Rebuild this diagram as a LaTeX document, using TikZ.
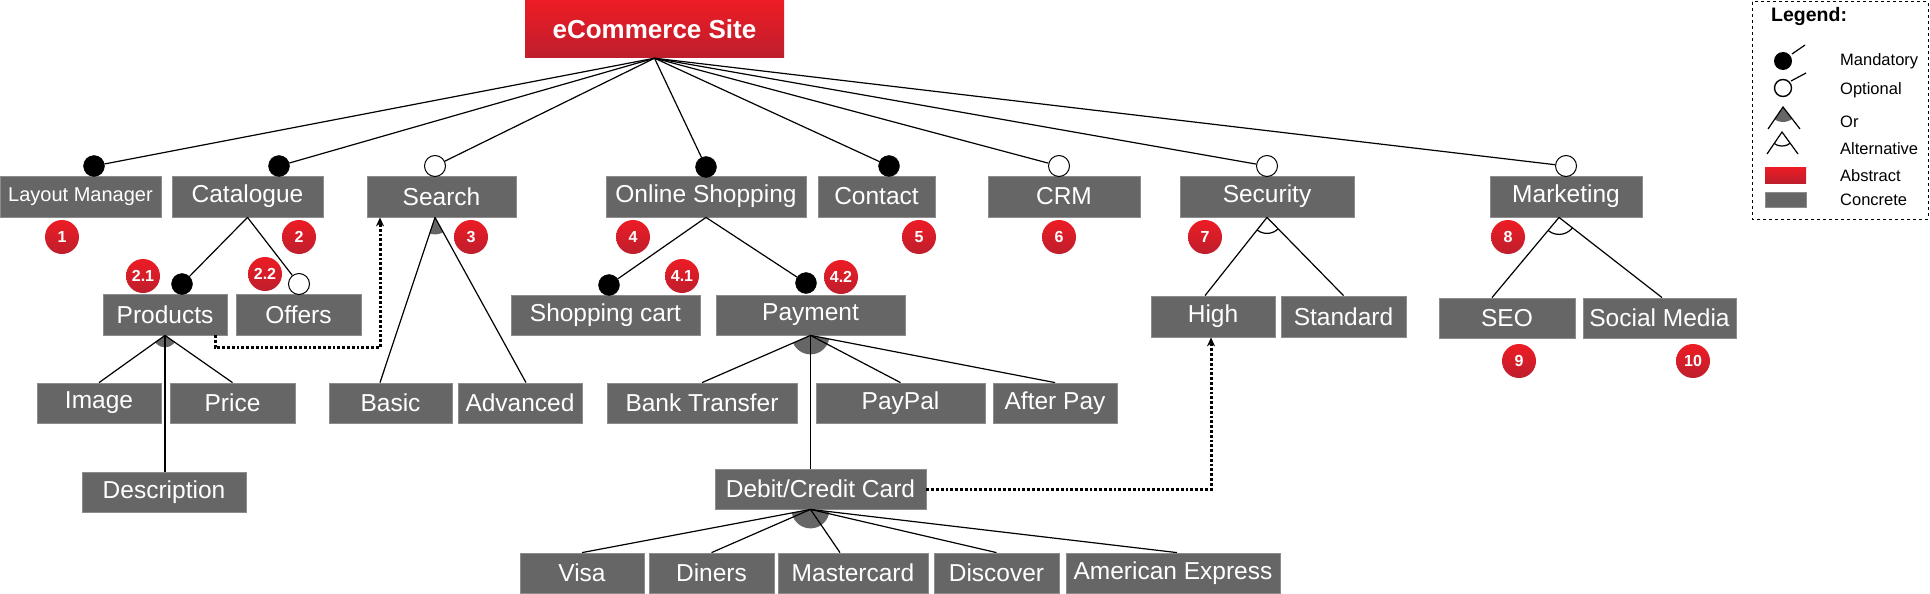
\documentclass[tikz,border=0pt]{standalone}
\usepackage{fontspec}
\setmainfont{Liberation Sans}
\usetikzlibrary{arrows.meta}
\definecolor{cgray}{HTML}{666666}
\definecolor{cborder}{HTML}{8C8C8C}
\definecolor{rtop}{HTML}{ED1C24}
\definecolor{rbot}{HTML}{BE1E2D}
\begin{document}
\begin{tikzpicture}[x=1pt,y=-1pt,
  cbox/.style={rectangle, fill=cgray, draw=cborder, line width=0.8pt, text=white, inner sep=0pt, minimum height=41pt, font=\fontsize{24.5}{28}\selectfont},
  abox/.style={rectangle, top color=rtop, bottom color=rbot, draw=none, text=white, inner sep=0pt, font=\fontsize{26}{30}\selectfont\bfseries},
  mand/.style={circle, fill=black, draw=black, minimum size=21pt, inner sep=0pt},
  opt/.style={circle, fill=white, draw=black, line width=1pt, minimum size=21pt, inner sep=0pt},
  badge/.style={circle, top color=rtop, bottom color=rbot, minimum size=34pt, inner sep=0pt, text=white, font=\fontsize{16}{16}\selectfont\bfseries},
  edge/.style={line width=1.2pt, black},
  dep/.style={line width=3pt, dash pattern=on 2.8pt off 2pt, -{Stealth[length=9pt,width=8pt]}},
  legtext/.style={anchor=west, inner sep=0pt, font=\fontsize{16.5}{18}\selectfont},
  orfill/.style={fill=cgray}
]
\useasboundingbox (0,0) rectangle (1930,594);

% ---------- boxes ----------
\node[abox, minimum width=259pt, minimum height=58pt] (root) at (654.5,29) {eCommerce Site};

\node[cbox, minimum width=161pt, font=\fontsize{20}{24}\selectfont] (lm) at (80.5,196.5) {Layout Manager};
\node[cbox, minimum width=151pt] (cat) at (247.5,196.5) {Catalogue};
\node[cbox, minimum width=149pt] (search) at (441.5,196.5) {Search};
\node[cbox, minimum width=200pt] (online) at (706,196.5) {Online Shopping};
\node[cbox, minimum width=117pt] (contact) at (876.5,196.5) {Contact};
\node[cbox, minimum width=152pt] (crm) at (1064,196.5) {CRM};
\node[cbox, minimum width=174pt] (security) at (1267,196.5) {Security};
\node[cbox, minimum width=152pt] (marketing) at (1566,196.5) {Marketing};

\node[cbox, minimum width=124pt] (products) at (165,314.5) {Products};
\node[cbox, minimum width=125pt] (offers) at (298.5,314.5) {Offers};
\node[cbox, minimum width=189pt, minimum height=40pt] (cart) at (605.5,315) {Shopping cart};
\node[cbox, minimum width=189pt, minimum height=40pt] (payment) at (810.5,315) {Payment};
\node[cbox, minimum width=124pt] (high) at (1213,316.5) {High};
\node[cbox, minimum width=125pt] (standard) at (1343.5,316.5) {Standard};
\node[cbox, minimum width=136pt, minimum height=40pt] (seo) at (1507,318) {SEO};
\node[cbox, minimum width=153pt, minimum height=40pt] (social) at (1659.5,318) {Social Media};

\node[cbox, minimum width=124pt, minimum height=40pt] (image) at (99,403) {Image};
\node[cbox, minimum width=125pt, minimum height=40pt] (price) at (232.5,403) {Price};
\node[cbox, minimum width=123pt, minimum height=40pt] (basic) at (390.5,403) {Basic};
\node[cbox, minimum width=124pt, minimum height=40pt] (advanced) at (520,403) {Advanced};
\node[cbox, minimum width=190pt, minimum height=40pt] (bank) at (702,403) {Bank Transfer};
\node[cbox, minimum width=169pt, minimum height=40pt] (paypal) at (900.5,403) {PayPal};
\node[cbox, minimum width=124pt, minimum height=40pt] (afterpay) at (1055,403) {After Pay};

\node[cbox, minimum width=164pt, minimum height=40pt] (desc) at (164,492) {Description};
\node[cbox, minimum width=211pt, minimum height=40pt] (debit) at (820.5,489) {Debit/Credit Card};

\node[cbox, minimum width=124pt, minimum height=40pt] (visa) at (582,573) {Visa};
\node[cbox, minimum width=125pt, minimum height=40pt] (diners) at (711.5,573) {Diners};
\node[cbox, minimum width=150pt, minimum height=40pt] (master) at (853,573) {Mastercard};
\node[cbox, minimum width=125pt, minimum height=40pt] (discover) at (996.5,573) {Discover};
\node[cbox, minimum width=214pt, minimum height=40pt] (amex) at (1173,573) {American Express};

% ---------- mandatory / optional markers ----------
\node[mand] (c-lm) at (94,166) {};
\node[mand] (c-cat) at (279,166) {};
\node[opt] (c-search) at (435,166) {};
\node[mand] (c-online) at (706,167) {};
\node[mand] (c-contact) at (889,166) {};
\node[opt] (c-crm) at (1059,166) {};
\node[opt] (c-security) at (1267,166) {};
\node[opt] (c-marketing) at (1566,166) {};
\node[mand] (c-products) at (182,284) {};
\node[opt] (c-offers) at (299,284) {};
\node[mand] (c-cart) at (609,285) {};
\node[mand] (c-payment) at (806,283) {};

% ---------- group junctions ----------
\coordinate (j-search) at ([xshift=-6.5pt]search.south);
\coordinate (j-debit) at (payment.south |- debit.south);
\coordinate (j-marketing) at ([xshift=-7pt]marketing.south);

% Or sectors
\begin{scope}
  \clip (products.south) -- (image.north) -- (price.north) -- cycle;
  \fill[orfill] (products.south) circle (12);
\end{scope}
\begin{scope}
  \clip (j-search) -- ([xshift=-10.5pt]basic.north) -- ([xshift=6pt]advanced.north) -- cycle;
  \fill[orfill] (j-search) circle (17);
\end{scope}
\begin{scope}
  \clip (payment.south) -- (bank.north) -- (afterpay.north) -- cycle;
  \fill[orfill] (payment.south) circle (19);
\end{scope}
\begin{scope}
  \clip (j-debit) -- (visa.north) -- ([xshift=4pt]amex.north) -- cycle;
  \fill[orfill] (j-debit) circle (19);
\end{scope}
% Alternative arcs
\begin{scope}
  \clip (security.south) -- ([xshift=-8pt]high.north) -- (standard.north) -- cycle;
  \draw[edge] (security.south) circle (16);
\end{scope}
\begin{scope}
  \clip (j-marketing) -- ([xshift=-15pt]seo.north) -- ([xshift=2.5pt]social.north) -- cycle;
  \draw[edge] (j-marketing) circle (17);
\end{scope}

% ---------- connectors ----------
\foreach \c in {c-lm,c-cat,c-search,c-online,c-contact,c-crm,c-security,c-marketing}
  \draw[edge] (root.south) -- (\c);

\draw[edge] (cat.south) -- (c-products);
\draw[edge] (cat.south) -- (c-offers);
\draw[edge] (online.south) -- (c-cart);
\draw[edge] (online.south) -- (c-payment);

\draw[edge] (products.south) -- (image.north);
\draw[edge] (products.south) -- (price.north);
\draw[edge] (products.south) -- (desc.north -| products.south);

\draw[edge] (j-search) -- ([xshift=-10.5pt]basic.north);
\draw[edge] (j-search) -- ([xshift=6pt]advanced.north);

\draw[edge] (payment.south) -- (bank.north);
\draw[edge] (payment.south) -- (paypal.north);
\draw[edge] (payment.south) -- (afterpay.north);
\draw[edge] (payment.south) -- (payment.south |- debit.north);

\draw[edge] (j-debit) -- (visa.north);
\draw[edge] (j-debit) -- (diners.north);
\draw[edge] (j-debit) -- ([xshift=-13pt]master.north);
\draw[edge] (j-debit) -- (discover.north);
\draw[edge] (j-debit) -- ([xshift=4pt]amex.north);

\draw[edge] (security.south) -- ([xshift=-8pt]high.north);
\draw[edge] (security.south) -- (standard.north);
\draw[edge] (j-marketing) -- ([xshift=-15pt]seo.north);
\draw[edge] (j-marketing) -- ([xshift=2.5pt]social.north);

% dependency (dotted) connectors
\draw[dep] ([xshift=50pt]products.south) -- ++(0,12) -| ([xshift=-61.5pt]search.south);
\draw[dep] (debit.east) -| ([xshift=-2pt]high.south);

% ---------- number badges ----------
\node[badge] (b1) at (62,237) {1};
\node[badge] (b2) at (299,237) {2};
\node[badge] (b3) at (471,237) {3};
\node[badge] (b4) at (633,237) {4};
\node[badge] (b5) at (919,237) {5};
\node[badge] (b6) at (1059,237) {6};
\node[badge] (b7) at (1205,237) {7};
\node[badge] (b8) at (1508,237) {8};
\node[badge] (b21) at (143,276) {2.1};
\node[badge] (b22) at (265,274) {2.2};
\node[badge] (b41) at (682,276) {4.1};
\node[badge] (b42) at (841,277) {4.2};
\node[badge] (b9) at (1519,361) {9};
\node[badge] (b10) at (1693,361) {10};

% ---------- legend ----------
\draw[line width=1pt, dashed] (1752,2) rectangle (1928,219);
\node[anchor=west, inner sep=0pt, font=\fontsize{19.5}{22}\selectfont\bfseries] (legtitle) at (1771,17) {Legend:};

\fill[black] (1783,61) circle (9);
\draw[edge] (1792,54) -- (1805,45);
\draw[line width=1.4pt, fill=white] (1783,88) circle (8.5);
\draw[edge] (1791,81) -- (1806,73);
\begin{scope}
  \clip (1783,107) -- (1768,129) -- (1800,129) -- cycle;
  \fill[orfill] (1783,107) circle (15);
\end{scope}
\draw[edge] (1768,129) -- (1783,107) -- (1800,129);
\begin{scope}
  \clip (1782,132) -- (1767,154) -- (1798,154) -- cycle;
  \draw[edge] (1782,132) circle (14);
\end{scope}
\draw[edge] (1767,154) -- (1782,132) -- (1798,154);
\node[rectangle, top color=rtop, bottom color=rbot, minimum width=41pt, minimum height=16pt, inner sep=0pt] (legabs) at (1785.5,175) {};
\node[rectangle, fill=cgray, draw=cborder, line width=0.6pt, minimum width=41pt, minimum height=15pt, inner sep=0pt] (legcon) at (1785.5,199.5) {};

\node[legtext] at (1840,61) {Mandatory};
\node[legtext] at (1840,90) {Optional};
\node[legtext] at (1840,122) {Or};
\node[legtext] at (1840,149) {Alternative};
\node[legtext] at (1840,176) {Abstract};
\node[legtext] at (1840,200) {Concrete};
\end{tikzpicture}
\end{document}
